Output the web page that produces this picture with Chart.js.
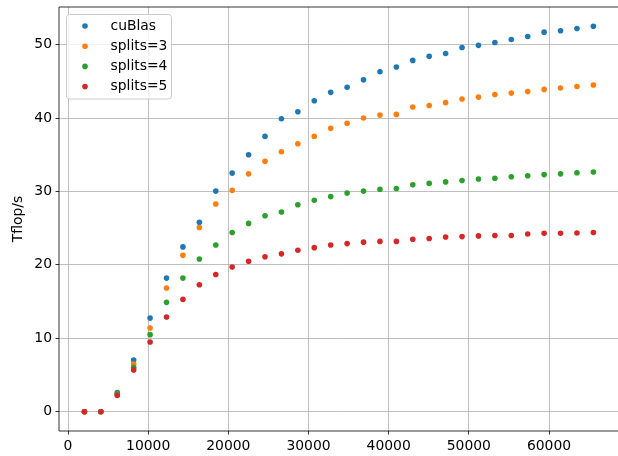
<!DOCTYPE html>
<html>
<head>
<meta charset="utf-8">
<script src="https://cdn.jsdelivr.net/npm/chart.js@4.4.1/dist/chart.umd.min.js"></script>
<style>
  html, body { margin: 0; padding: 0; background: #fff; }
  canvas { display: block; }
</style>
</head>
<body>
<canvas id="flops" width="618" height="456"></canvas>
<script>
'use strict';

// matrix sizes (x) and measured Tflop/s per variant
const sizes = [2048, 4096, 6144, 8192, 10240, 12288, 14336, 16384, 18432, 20480,
  22528, 24576, 26624, 28672, 30720, 32768, 34816, 36864, 38912, 40960, 43008,
  45056, 47104, 49152, 51200, 53248, 55296, 57344, 59392, 61440, 63488, 65536];
const cublas = [0, 0, 2.6, 7.05, 12.75, 18.2, 22.45, 25.8, 30.05, 32.5, 35.0, 37.5,
  39.9, 40.85, 42.35, 43.5, 44.2, 45.2, 46.3, 46.95, 47.85, 48.4, 48.8, 49.6, 49.9,
  50.3, 50.7, 51.1, 51.7, 51.9, 52.2, 52.5];
const splits3 = [0, 0, 2.4, 6.5, 11.4, 16.85, 21.3, 25.1, 28.3, 30.15, 32.4, 34.1,
  35.4, 36.5, 37.5, 38.6, 39.3, 40.0, 40.4, 40.5, 41.5, 41.7, 42.1, 42.6, 42.85,
  43.2, 43.4, 43.6, 43.9, 44.1, 44.3, 44.5];
const splits4 = [0, 0, 2.4, 6.05, 10.5, 14.9, 18.2, 20.8, 22.7, 24.4, 25.65, 26.7,
  27.2, 28.2, 28.8, 29.3, 29.8, 30.05, 30.3, 30.4, 30.9, 31.1, 31.3, 31.5, 31.7,
  31.8, 32.0, 32.15, 32.3, 32.4, 32.55, 32.65];
const splits5 = [0, 0, 2.2, 5.7, 9.5, 12.9, 15.3, 17.3, 18.7, 19.7, 20.5, 21.1,
  21.5, 22.0, 22.35, 22.7, 22.9, 23.1, 23.2, 23.2, 23.5, 23.6, 23.8, 23.85, 23.95,
  24.0, 24.0, 24.2, 24.3, 24.3, 24.35, 24.4];

const labels = ['cuBlas', 'splits=3', 'splits=4', 'splits=5'];
const colors = ['#1f77b4', '#ff7f0e', '#2ca02c', '#d62728'];
const xTicks = [0, 10000, 20000, 30000, 40000, 50000, 60000];
const yTicks = [0, 10, 20, 30, 40, 50];

const FONT = { family: 'DejaVu Sans', size: 13.9 };
Chart.defaults.color = '#000';
Chart.defaults.font.family = FONT.family;

const series = [cublas, splits3, splits4, splits5];

// left / top / bottom spines (right one falls off the cropped image)
const spines = {
  id: 'spines',
  afterDatasetsDraw(chart) {
    const { ctx, chartArea: a } = chart;
    ctx.save();
    ctx.strokeStyle = '#000';
    ctx.lineWidth = 0.8;
    ctx.beginPath();
    ctx.moveTo(a.right + 2, a.top);
    ctx.lineTo(a.left, a.top);
    ctx.lineTo(a.left, a.bottom);
    ctx.lineTo(a.right + 2, a.bottom);
    ctx.stroke();
    ctx.restore();
  },
};

// legend drawn inside the plot, upper left, with frame
const boxLegend = {
  id: 'boxLegend',
  afterDraw(chart) {
    const ctx = chart.ctx;
    ctx.save();
    ctx.beginPath();
    ctx.roundRect(66.5, 14.5, 105, 84.5, 3);
    ctx.fillStyle = 'rgba(255,255,255,0.8)';
    ctx.fill();
    ctx.strokeStyle = '#cccccc';
    ctx.lineWidth = 1;
    ctx.stroke();
    ctx.font = FONT.size + 'px ' + FONT.family;
    ctx.textBaseline = 'middle';
    chart.data.datasets.forEach((ds, i) => {
      const y = 26 + i * 20.2;
      ctx.beginPath();
      ctx.arc(85, y, 2.8, 0, Math.PI * 2);
      ctx.fillStyle = ds.backgroundColor;
      ctx.fill();
      ctx.fillStyle = '#000';
      ctx.fillText(ds.label, 110.5, y);
    });
    ctx.restore();
  },
};

const gridOpts = {
  color: '#b0b0b0',
  lineWidth: 0.8,
  tickColor: '#000',
  tickLength: 3.5,
  tickWidth: 0.8,
};

new Chart(document.getElementById('flops'), {
  type: 'scatter',
  data: {
    datasets: series.map((vals, i) => ({
      label: labels[i],
      data: vals.map((v, j) => ({ x: sizes[j], y: v })),
      backgroundColor: colors[i],
      borderColor: colors[i],
      pointRadius: 2.8,
      pointBorderWidth: 0,
      pointHoverRadius: 2.8,
      order: series.length - i,
    })),
  },
  options: {
    responsive: false,
    animation: false,
    events: [],
    layout: { autoPadding: false, padding: { left: 0, right: 0, top: 7, bottom: 0 } },
    plugins: {
      legend: { display: false },
      tooltip: { enabled: false },
    },
    scales: {
      x: {
        type: 'linear',
        min: -1123,
        max: 68607,
        afterBuildTicks: (s) => { s.ticks = xTicks.map((v) => ({ value: v })); },
        afterFit: (s) => { s.height = 25; s.paddingLeft = 0; s.paddingRight = 0; },
        ticks: { font: FONT, padding: 3.5, maxRotation: 0, callback: (v) => String(v) },
        grid: gridOpts,
        border: { display: false },
      },
      y: {
        min: -2.625,
        max: 55.125,
        afterBuildTicks: (s) => { s.ticks = yTicks.map((v) => ({ value: v })); },
        afterFit: (s) => { s.width = 59; s.paddingTop = 0; s.paddingBottom = 0; },
        ticks: { font: FONT, padding: 3.5, callback: (v) => String(v) },
        grid: gridOpts,
        border: { display: false },
        title: {
          display: true,
          text: 'Tflop/s',
          font: FONT,
          padding: { top: 10, bottom: 0 },
        },
      },
    },
  },
  plugins: [spines, boxLegend],
});
</script>
</body>
</html>
